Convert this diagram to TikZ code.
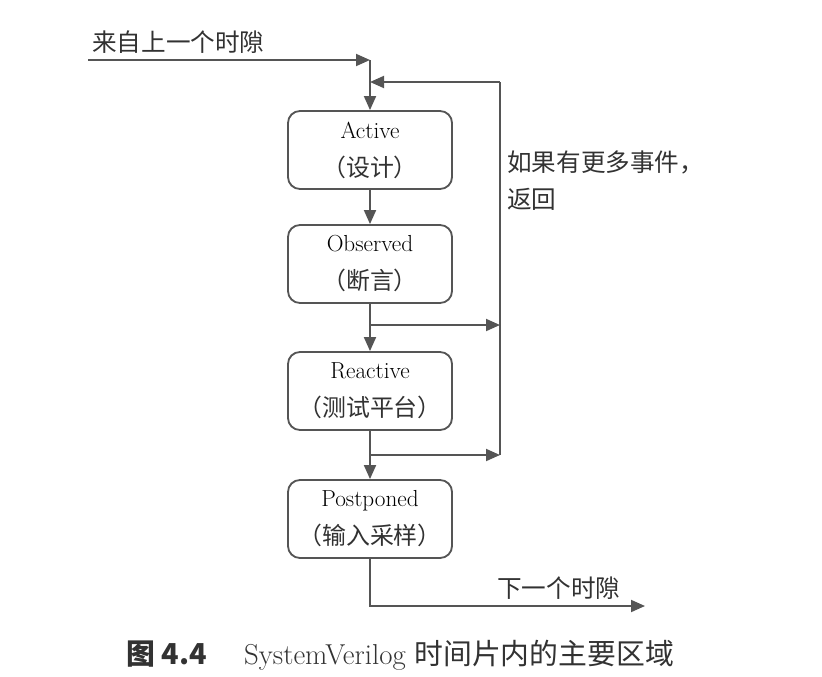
\documentclass[tikz,border=0pt]{standalone}
\usepackage{fontspec}
\newfontfamily\cjk{Noto Sans CJK SC}
\usetikzlibrary{arrows.meta}
\definecolor{linegray}{RGB}{85,85,85}
\definecolor{textgray}{RGB}{50,50,50}
\tikzset{
  region/.style = {draw=linegray, rounded corners=0.3cm, line width=1.3pt,
    minimum width=4.1cm, minimum height=1.95cm, align=center,
    text=black, font=\fontsize{16.5}{27}\selectfont},% one slot region
  note/.style = {text=textgray, inner sep=0pt,
    font=\cjk\fontsize{17.5}{27}\selectfont},% side labels
  flow/.style = {->, line width=1.3pt, draw=linegray}
}

\begin{document}
\begin{tikzpicture}[x=0.025cm, y=-0.025cm,
    >={Triangle[length=3.5mm, width=3mm]}]
  \useasboundingbox (0,0) rectangle (822,677);
  % regions
  \node [region] (active)    at (370,150) {Active\\{\cjk\color{textgray}\fontsize{17}{27}\selectfont （设计）}};
  \node [region] (observed)  at (370,264) {Observed\\{\cjk\color{textgray}\fontsize{17}{27}\selectfont （断言）}};
  \node [region] (reactive)  at (370,391) {Reactive\\{\cjk\color{textgray}\fontsize{17}{27}\selectfont （测试平台）}};
  \node [region] (postponed) at (370,519) {Postponed\\{\cjk\color{textgray}\fontsize{17}{27}\selectfont （输入采样）}};
  % junctions
  \coordinate (in)    at (88,60);
  \coordinate (merge) at (370,60);
  \coordinate (back)  at (370,82);
  \coordinate (ret)   at (500,82);
  \coordinate (obsj)  at (370,325);
  \coordinate (obse)  at (500,325);
  \coordinate (reaj)  at (370,455);
  \coordinate (reae)  at (500,455);
  \coordinate (outE)  at (645,606);
  % connectors
  \draw [flow] (in) -- (merge);
  \draw [flow] (merge) -- (active.north);
  \draw [flow] (ret) -- (back);
  \draw [line width=1.3pt, draw=linegray] (reae) -- (ret);
  \draw [flow] (active) -- (observed);
  \draw [flow] (observed) -- (reactive);
  \draw [flow] (obsj) -- (obse);
  \draw [flow] (reactive) -- (postponed);
  \draw [flow] (reaj) -- (reae);
  \draw [flow] (postponed.south) |- (outE);
  % labels
  \node [note, anchor=base west] (fromprev) at (92,51) {来自上一个时隙};
  \node [note, anchor=north west, align=left] (more) at (507,150)
    {如果有更多事件，\\返回};
  \node [note, anchor=base west] (tonext) at (497,597) {下一个时隙};
  \node [text=textgray, font=\fontsize{20.5}{24}\selectfont] (caption) at (400,655)
    {{\cjk\bfseries 图 4.4}\hspace{1.3em}SystemVerilog {\cjk 时间片内的主要区域}};
\end{tikzpicture}
\end{document}
